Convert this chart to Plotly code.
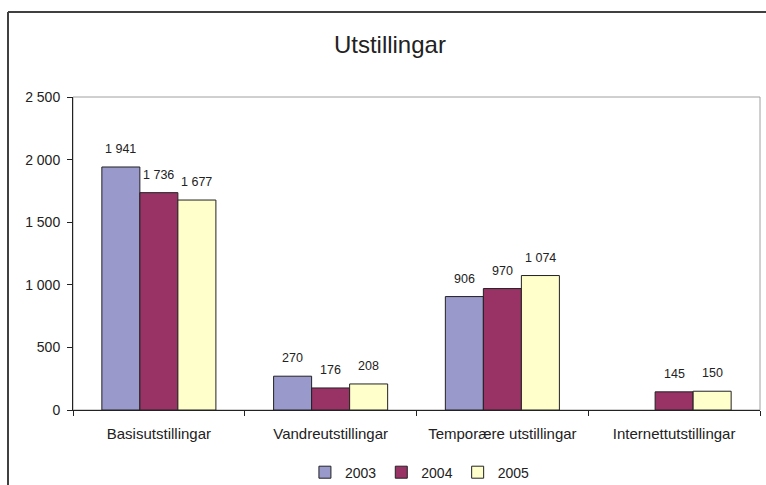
import plotly.graph_objects as go

categories = ["Basisutstillingar", "Vandreutstillingar", "Temporære utstillingar", "Internettutstillingar"]
years = ["2003", "2004", "2005"]
values_2003 = [1941, 270, 906, None]
values_2004 = [1736, 176, 970, 145]
values_2005 = [1677, 208, 1074, 150]
tick_values = [0, 500, 1000, 1500, 2000, 2500]
tick_labels = ["0", "500", "1 000", "1 500", "2 000", "2 500"]
title_text = "Utstillingar"

colors = ["#9999CC", "#993366", "#FFFFCC"]
FONT = "Liberation Sans, Arial, sans-serif"

W, H = 766, 485
ML, MR, MT, MB = 73, 6, 97, 75
BARGAP = 0.336


def fmt(v):
    if v is None:
        return ""
    return f"{v:,}".replace(",", " ")


series = [values_2003, values_2004, values_2005]
fig = go.Figure()
for name, vals, col in zip(years, series, colors):
    fig.add_trace(go.Bar(
        x=categories, y=vals, name=name,
        marker=dict(color=col, line=dict(color="#222222", width=1)),
    ))

# value labels above bars (offset per group slot derived from layout)
plot_w = W - ML - MR
bar_w = plot_w / len(categories) * (1 - BARGAP) / len(series)
annotations = []
for i, vals in enumerate(series):
    shift = (i - (len(series) - 1) / 2) * bar_w
    for cat, v in zip(categories, vals):
        if v is None:
            continue
        annotations.append(dict(
            x=cat, y=v, xref="x", yref="y", text=fmt(v), showarrow=False,
            xanchor="center", yanchor="bottom", xshift=shift, yshift=9,
            font=dict(size=12.5, color="#222222", family=FONT),
        ))

fig.update_layout(
    width=W, height=H,
    margin=dict(l=ML, r=MR, t=MT, b=MB, autoexpand=False),
    paper_bgcolor="white", plot_bgcolor="white",
    barmode="group", bargap=BARGAP, bargroupgap=0,
    font=dict(family=FONT, size=13, color="#222222"),
    title=dict(text=title_text, x=0.509, xanchor="center", y=1 - 45 / 485, yanchor="middle",
               font=dict(size=24, family=FONT, color="#222222")),
    legend=dict(orientation="h", x=0.505, xanchor="center", y=-0.20, yanchor="middle",
                font=dict(size=14, family=FONT), itemwidth=30, tracegroupgap=0),
    showlegend=True,
    annotations=annotations,
    xaxis=dict(showline=True, linecolor="#222222", linewidth=1, ticks="outside",
               tickson="boundaries", ticklen=5, tickcolor="#222222",
               ticklabelstandoff=10,
               tickfont=dict(size=15, family=FONT), showgrid=False),
    yaxis=dict(range=[0, 2500], tickvals=tick_values, ticktext=tick_labels,
               showline=True, linecolor="#222222", linewidth=1, ticks="outside",
               ticklen=5, tickcolor="#222222", showgrid=False, zeroline=False,
               ticklabelstandoff=4,
               tickfont=dict(size=14, family=FONT)),
    shapes=[
        dict(type="rect", xref="paper", yref="paper", x0=0, x1=1, y0=0, y1=1,
             line=dict(color="#A0A0A0", width=1), layer="below"),
        dict(type="line", xref="paper", yref="paper", x0=-65 / 687, x1=-65 / 687,
             y0=1.2716, y1=-0.5, line=dict(color="#404040", width=2)),
        dict(type="line", xref="paper", yref="paper", x0=-65 / 687, x1=1.2,
             y0=1.2716, y1=1.2716, line=dict(color="#404040", width=2)),
    ],
)

fig.write_html("out.html", config={"displayModeBar": False},
               post_script="document.body.style.margin='0';document.body.style.overflow='hidden';")
